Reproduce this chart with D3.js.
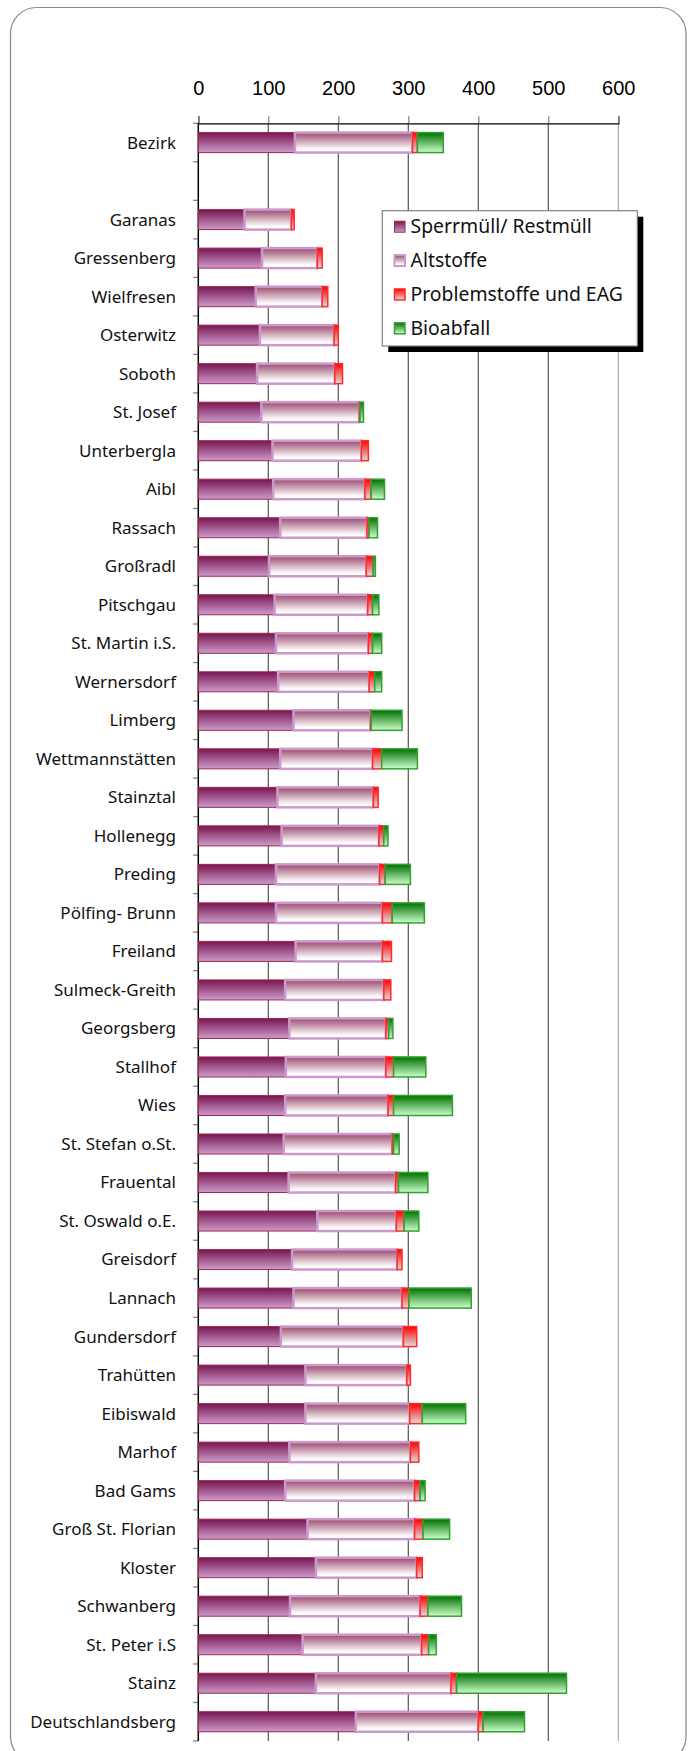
<!DOCTYPE html>
<html><head><meta charset="utf-8">
<script src="https://cdn.jsdelivr.net/npm/d3@7"></script>
<style>html,body{margin:0;padding:0;background:#fff;}svg{display:block;}</style>
</head><body>
<svg id="chart" width="691" height="1751"></svg>
<script>
const categories = ["Bezirk","","Garanas","Gressenberg","Wielfresen","Osterwitz","Soboth","St. Josef","Unterbergla","Aibl","Rassach","Großradl","Pitschgau","St. Martin i.S.","Wernersdorf","Limberg","Wettmannstätten","Stainztal","Hollenegg","Preding","Pölfing- Brunn","Freiland","Sulmeck-Greith","Georgsberg","Stallhof","Wies","St. Stefan o.St.","Frauental","St. Oswald o.E.","Greisdorf","Lannach","Gundersdorf","Trahütten","Eibiswald","Marhof","Bad Gams","Groß St. Florian","Kloster","Schwanberg","St. Peter i.S","Stainz","Deutschlandsberg"];
const sperrmuell = [138,0,66,91,82,88,84,90,106,107,117,101,109,111,114,136,117,113,119,111,111,139,124,130,125,124,122,129,170,134,136,118,153,153,130,124,156,168,131,149,168,225];
const altstoffe  = [168,0,67,79,95,106,111,140,127,131,124,139,133,132,130,110,132,137,139,148,152,124,141,138,143,147,155,153,113,150,155,175,145,149,173,185,153,144,186,170,193,175];
const problem    = [7,0,4,7,8,6,11,1,10,9,3,10,7,6,8,1,13,7,7,8,14,13,10,4,11,8,2,4,11,7,10,19,5,18,12,8,12,8,11,10,8,7];
const bioabfall  = [37,0,0,0,0,0,0,5,0,19,12,3,9,13,10,44,51,0,6,36,46,0,0,6,46,84,8,42,21,0,89,0,0,62,0,7,38,0,48,11,157,59];
const seriesNames = ["Sperrmüll/ Restmüll","Altstoffe","Problemstoffe und EAG","Bioabfall"];
const xTicks = [0,100,200,300,400,500,600];

const svg = d3.select("#chart");
const defs = svg.append("defs");
const styles = [
  {id:"g0", stops:[["0%","#781550"],["100%","#cc9ccc"]], stroke:"#a02850", sw:1},
  {id:"g1", stops:[["0%","#9a4a6c"],["85%","#ffffff"],["100%","#ffffff"]], stroke:"#cc99cc", sw:2.5},
  {id:"g2", stops:[["0%","#ff0000"],["100%","#dedede"]], stroke:"#ff2a2a", sw:1.5},
  {id:"g3", stops:[["0%","#007000"],["100%","#ccffcc"]], stroke:"#33a033", sw:1.5}
];
styles.forEach(s=>{
  const g = defs.append("linearGradient").attr("id",s.id).attr("x1",0).attr("y1",0).attr("x2",0).attr("y2",1);
  s.stops.forEach(st=>g.append("stop").attr("offset",st[0]).attr("stop-color",st[1]));
});

// frame
svg.append("rect").attr("x",10.5).attr("y",7.5).attr("width",675.5).attr("height",1755).attr("rx",26).attr("ry",26)
  .attr("fill","#fff").attr("stroke","#888").attr("stroke-width",1.2);

const x = d3.scaleLinear().domain([0,600]).range([198.3,618.3]);
const y = d3.scaleBand().domain(categories).range([123.3,1741]).paddingInner(0.48).paddingOuter(0.24);

// gridlines
svg.append("g").selectAll("line").data(xTicks.slice(1)).join("line")
  .attr("x1",d=>x(d)).attr("x2",d=>x(d)).attr("y1",123.3).attr("y2",1741)
  .attr("stroke",d=>d===600?"#aaa":"#555").attr("stroke-width",1.2);

// top axis
const xAxis = d3.axisTop(x).tickValues(xTicks).tickSize(7).tickPadding(21).tickFormat(d3.format("d"));
const gx = svg.append("g").attr("transform","translate(0,123.3)").call(xAxis);
gx.select(".domain").attr("stroke","#000").attr("stroke-width",1.3);
gx.selectAll(".tick line").attr("stroke","#888").attr("stroke-width",1.3);
gx.selectAll(".tick text").attr("font-family","'Liberation Sans', Arial, sans-serif").attr("font-size",20).attr("fill","#000");

// left axis ticks at band boundaries
const step = y.step();
const bounds = d3.range(categories.length+1).map(i=>123.3+i*step);
svg.append("g").selectAll("line").data(bounds).join("line")
  .attr("x1",193).attr("x2",198.3).attr("y1",d=>d).attr("y2",d=>d).attr("stroke","#888").attr("stroke-width",1.3);
svg.append("line").attr("x1",198.3).attr("x2",198.3).attr("y1",123.3).attr("y2",1741).attr("stroke","#000").attr("stroke-width",1.5);

// labels
svg.append("g").selectAll("text").data(categories).join("text")
  .attr("x",176).attr("y",d=>y(d)+y.bandwidth()/2).attr("dy","0.35em").attr("text-anchor","end")
  .attr("font-family","'Noto Sans', sans-serif").attr("font-size",17).attr("fill","#111").text(d=>d);

// bars
const series = [sperrmuell, altstoffe, problem, bioabfall];
const rows = categories.map((c,i)=>({cat:c, vals:series.map(s=>s[i])}));
const stack = d3.stack().keys([0,1,2,3]).value((d,k)=>d.vals[k]);
const stacked = stack(rows);
stacked.forEach((layer,k)=>{
  const s = styles[k];
  svg.append("g").selectAll("rect").data(layer.filter(d=>d[1]-d[0]>0)).join("rect")
    .attr("x",d=>x(d[0])).attr("width",d=>x(d[1])-x(d[0]))
    .attr("y",d=>y(d.data.cat)).attr("height",y.bandwidth())
    .attr("fill",`url(#${s.id})`).attr("stroke",s.stroke).attr("stroke-width",s.sw);
});

// legend
const lg = svg.append("g");
lg.append("rect").attr("x",388.3).attr("y",216.7).attr("width",255).attr("height",135.3).attr("fill","#000");
lg.append("rect").attr("x",382.3).attr("y",210.7).attr("width",255).attr("height",135.3).attr("fill","#fff").attr("stroke","#808080").attr("stroke-width",1.2);
const ly = d3.scalePoint().domain(seriesNames).range([226.7,328.3]);
seriesNames.forEach((n,k)=>{
  const s = styles[k];
  lg.append("rect").attr("x",394.5).attr("y",ly(n)-5.5).attr("width",10.5).attr("height",11)
    .attr("fill",`url(#${s.id})`).attr("stroke",s.stroke).attr("stroke-width",Math.min(s.sw,2));
  lg.append("text").attr("x",410.5).attr("y",ly(n)).attr("dy","0.35em")
    .attr("font-family","'Noto Sans', sans-serif").attr("font-size",19.4).attr("fill","#111").text(n);
});
</script>
</body></html>
